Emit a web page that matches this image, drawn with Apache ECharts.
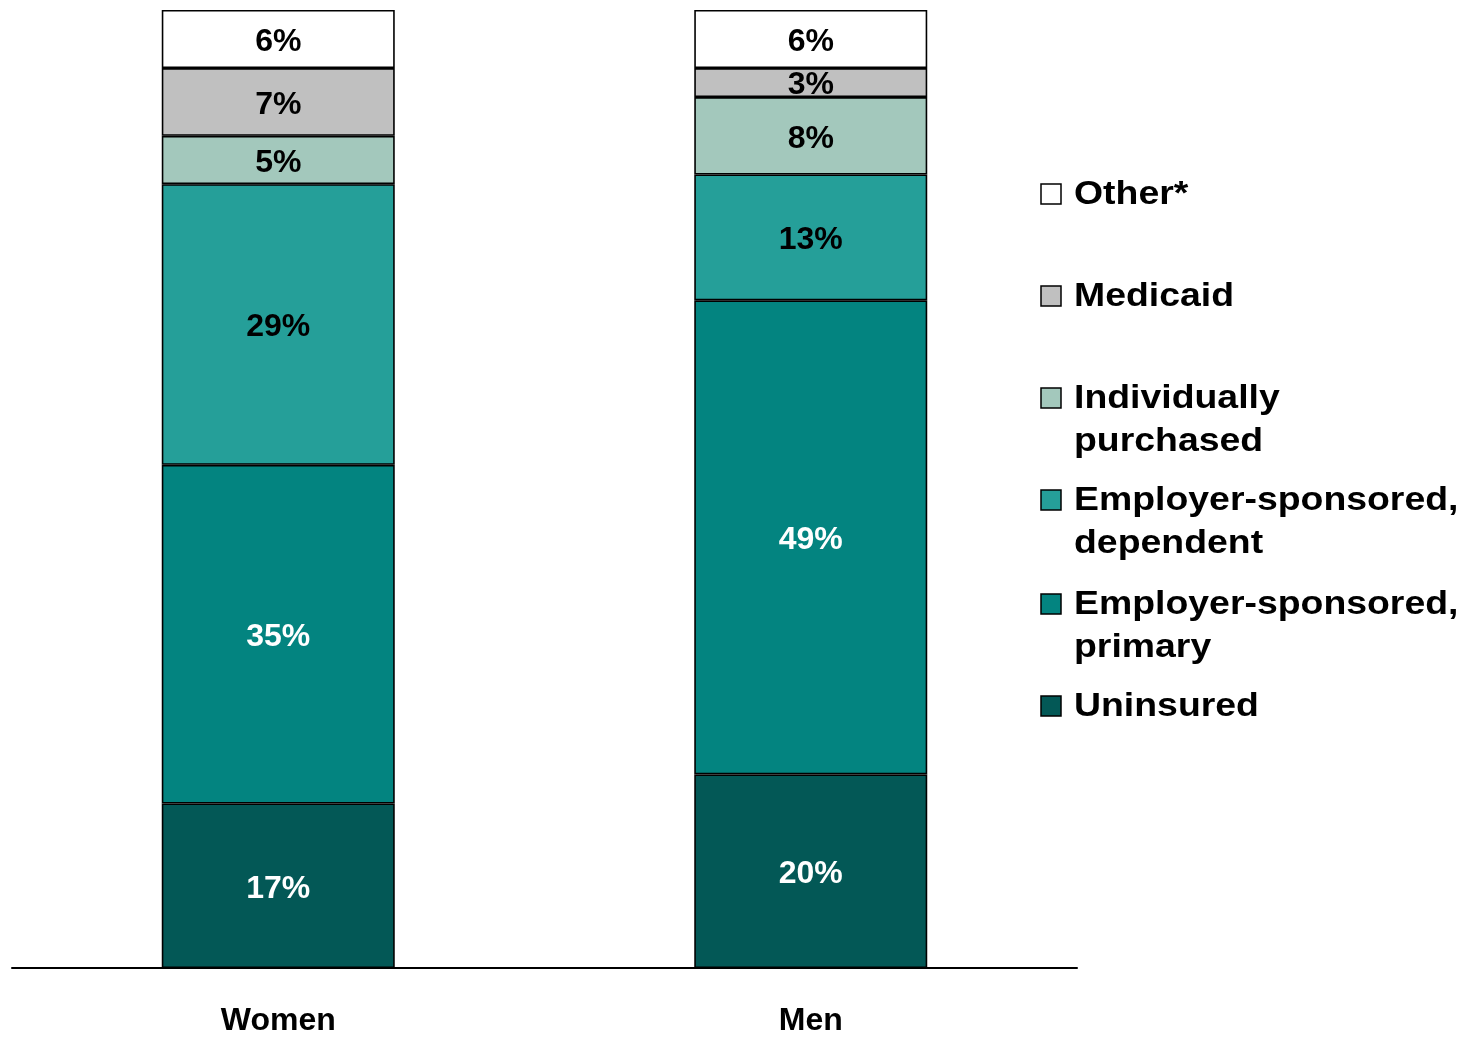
<!DOCTYPE html>
<html>
<head>
<meta charset="utf-8">
<script src="https://cdn.jsdelivr.net/npm/echarts@6/dist/echarts.min.js"></script>
<style>html,body{margin:0;padding:0;background:#fff;}#c{width:1469px;height:1039px;}</style>
</head>
<body>
<div id="c"></div>
<script>
const categories = ['Women', 'Men'];
const seriesNames = ['Uninsured', 'Employer-sponsored,\nprimary', 'Employer-sponsored,\ndependent', 'Individually\npurchased', 'Medicaid', 'Other*'];
const uninsured = [17, 20];
const employerPrimary = [35, 49];
const employerDependent = [29, 13];
const individual = [5, 8];
const medicaid = [7, 3];
const other = [6, 6];
const seriesData = [uninsured, employerPrimary, employerDependent, individual, medicaid, other];
const colors = ['#035856', '#038480', '#259F99', '#A3C8BC', '#C0C0C0', '#FFFFFF'];
const labelColors = ['#FFFFFF', '#FFFFFF', '#000000', '#000000', '#000000', '#000000'];
const FONT = '"Liberation Sans", Arial, sans-serif';

const chart = echarts.init(document.getElementById('c'));

const series = seriesData.map((d, i) => ({
  name: seriesNames[i],
  type: 'bar',
  stack: 'total',
  data: d,
  barWidth: 233,
  itemStyle: { color: colors[i], borderColor: '#000', borderWidth: 1.6 },
  label: {
    show: true,
    position: 'inside',
    formatter: '{c}%',
    color: labelColors[i],
    fontFamily: FONT,
    fontWeight: 'bold',
    fontSize: 32,
    offset: [0, 3]
  }
}));

// legend built as graphic elements (top to bottom: reversed series order)
const legendCenters = [194, 296, 398, 500, 604, 706];
const graphic = [];
const order = [5, 4, 3, 2, 1, 0];
order.forEach((si, k) => {
  const cy = legendCenters[k];
  graphic.push({
    type: 'rect',
    shape: { x: 1041, y: cy - 10, width: 20, height: 20 },
    style: { fill: colors[si], stroke: '#000', lineWidth: 1.5 }
  });
  graphic.push({
    type: 'text',
    x: 1074,
    y: cy - 21,
    scaleX: 1.1,
    style: {
      text: seriesNames[si],
      fill: '#000',
      font: 'bold 34px ' + FONT,
      lineHeight: 43,
      verticalAlign: 'top',
      align: 'left'
    }
  });
});

chart.setOption({
  animation: false,
  backgroundColor: '#fff',
  grid: { left: 12, right: 392, top: 10, bottom: 71, containLabel: false },
  xAxis: {
    type: 'category',
    data: categories,
    axisLine: { show: true, lineStyle: { color: '#000', width: 2 } },
    axisTick: { show: false },
    axisLabel: { color: '#000', fontFamily: FONT, fontWeight: 'bold', fontSize: 32, margin: 37 }
  },
  yAxis: {
    type: 'value',
    min: 0,
    max: 99,
    show: false,
    splitLine: { show: false }
  },
  series: series,
  graphic: graphic
});
</script>
</body>
</html>
